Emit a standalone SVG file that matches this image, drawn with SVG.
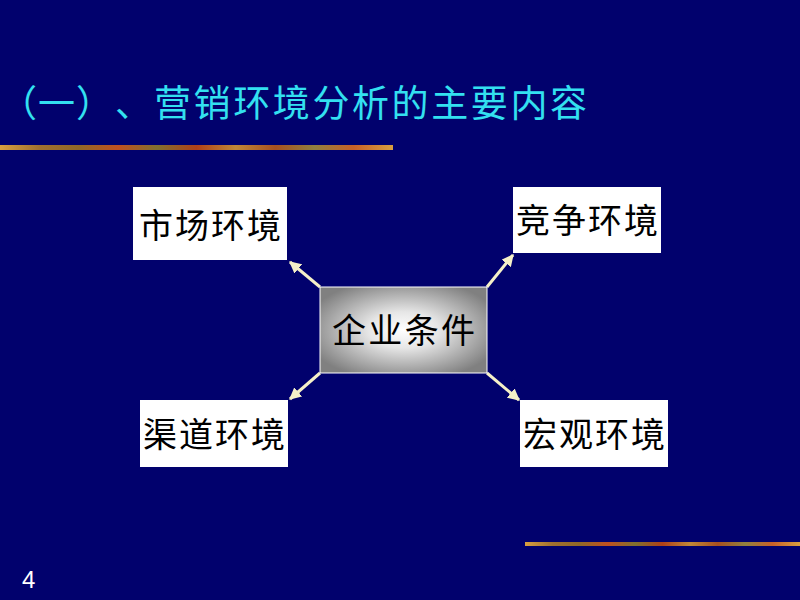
<svg xmlns="http://www.w3.org/2000/svg" width="800" height="600" viewBox="0 0 800 600">
<defs>
<style>
.box{fill:#ffffff;}
.lbl{font-family:"Noto Sans CJK SC","Liberation Sans",sans-serif;font-size:34px;fill:#000000;}
.title{font-family:"Noto Sans CJK SC","Liberation Sans",sans-serif;font-size:37px;fill:#33E0F0;}
.conn{stroke:#F5F0C8;stroke-width:3;fill:none;marker-end:url(#ah);}
</style>
<marker id="ah" viewBox="0 0 10 10" refX="9" refY="5" markerWidth="4" markerHeight="4" orient="auto" markerUnits="strokeWidth">
<path d="M0,0 L10,5 L0,10 z" fill="#F5F0C8"/>
</marker>
<radialGradient id="cg" cx="50%" cy="50%" r="60%">
<stop offset="0" stop-color="#ffffff"/>
<stop offset="0.35" stop-color="#e6e6e6"/>
<stop offset="1" stop-color="#808080"/>
</radialGradient>
<linearGradient id="stripe" x1="0" y1="0" x2="1" y2="0">
<stop offset="0" stop-color="#D8A040"/>
<stop offset="0.1" stop-color="#A07030"/>
<stop offset="0.2" stop-color="#906828"/>
<stop offset="0.3" stop-color="#C05020"/>
<stop offset="0.4" stop-color="#807030"/>
<stop offset="0.5" stop-color="#B04018"/>
<stop offset="0.6" stop-color="#C08838"/>
<stop offset="0.7" stop-color="#A85020"/>
<stop offset="0.8" stop-color="#908040"/>
<stop offset="0.9" stop-color="#C86028"/>
<stop offset="1" stop-color="#D8A040"/>
</linearGradient>
</defs>
<rect x="0" y="0" width="800" height="600" fill="#01016D"/>
<text class="title" y="117" x="0 38 76 115 154 193.6 233.2 272.8 312.4 352 391.6 431.2 470.8 510.4 550">（一）、营销环境分析的主要内容</text>
<rect x="0" y="145" width="393" height="5" fill="url(#stripe)"/>
<rect x="525" y="542" width="275" height="4" fill="url(#stripe)"/>
<text x="22" y="588" font-family="Liberation Sans, Arial, sans-serif" font-size="24" fill="#ffffff">4</text>
<g id="connectors">
<line class="conn" x1="320" y1="287" x2="290" y2="262"/>
<line class="conn" x1="487" y1="287" x2="513" y2="255"/>
<line class="conn" x1="320" y1="373" x2="290" y2="399"/>
<line class="conn" x1="487" y1="373" x2="519" y2="400"/>
</g>
<g id="center">
<rect x="320" y="287" width="167" height="86" fill="url(#cg)" stroke="#ffffff" stroke-width="1"/>
<text class="lbl" x="403.5" y="343" text-anchor="middle" textLength="143" lengthAdjust="spacing">企业条件</text>
</g>
<g id="market">
<rect class="box" x="133" y="187" width="154" height="73"/>
<text class="lbl" x="210" y="238" text-anchor="middle" textLength="142" lengthAdjust="spacing">市场环境</text>
</g>
<g id="competition">
<rect class="box" x="513" y="187" width="148" height="66"/>
<text class="lbl" x="587" y="233" text-anchor="middle" textLength="142" lengthAdjust="spacing">竞争环境</text>
</g>
<g id="channel">
<rect class="box" x="140" y="400" width="148" height="67"/>
<text class="lbl" x="214" y="447" text-anchor="middle" textLength="142" lengthAdjust="spacing">渠道环境</text>
</g>
<g id="macro">
<rect class="box" x="520" y="400" width="148" height="67"/>
<text class="lbl" x="594" y="447" text-anchor="middle" textLength="142" lengthAdjust="spacing">宏观环境</text>
</g>
</svg>
